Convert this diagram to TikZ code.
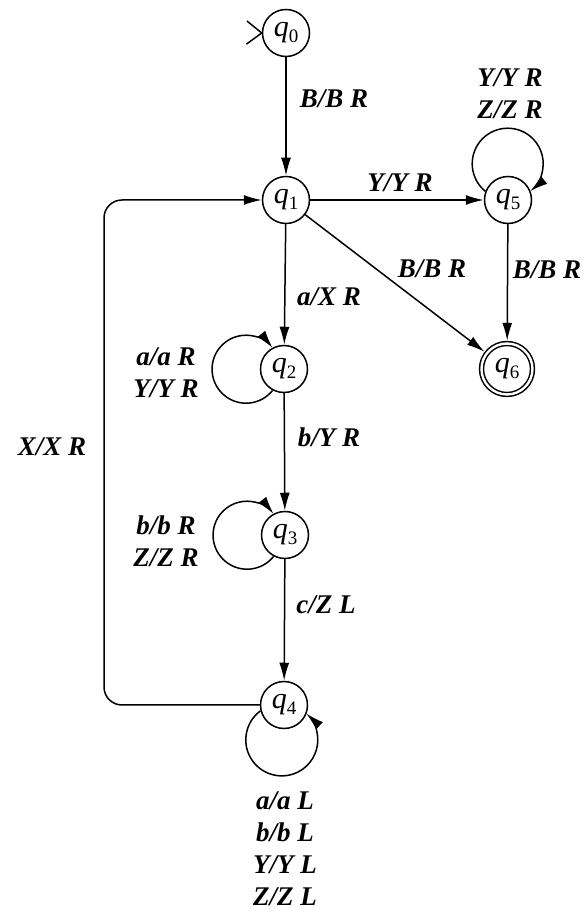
\documentclass[tikz,border=0pt]{standalone}
\usepackage{fontspec}
\setmainfont{Liberation Serif}
\usetikzlibrary{arrows.meta}
\newcommand{\qs}[1]{{\itshape q}\raisebox{-0.4ex}{\fontsize{19}{19}\selectfont #1}}
\begin{document}
\begin{tikzpicture}[x=1pt,y=1pt,
  state/.style={circle, draw, line width=1.5pt, minimum size=47pt, inner sep=0pt, font=\fontsize{30}{30}\selectfont},
  accept/.style={state, minimum size=51pt, double, double distance=2.4pt, outer sep=2.7pt},
  lbl/.style={font=\fontsize{27}{32}\selectfont\bfseries\itshape, inner sep=0pt, align=center},
  tr/.style={line width=1.5pt, -{Latex[length=18pt,width=10pt]}},
  plain/.style={line width=1.5pt}
]
\useasboundingbox (0,0) rectangle (582,911);
% states
\node[state] (q0) at (286,878) {\qs{0}};
\node[state] (q1) at (286,711) {\qs{1}};
\node[state] (q2) at (284,542) {\qs{2}};
\node[state] (q3) at (285,376) {\qs{3}};
\node[state] (q4) at (284,206) {\qs{4}};
\node[state] (q5) at (508,711) {\qs{5}};
\node[accept] (q6) at (507,542) {\qs{6}};
% initial marker
\draw[plain] (q0.west) -- ++(141:19);
\draw[plain] (q0.west) -- ++(216:19);
% transitions
\draw[tr] (q0) -- (q1);
\draw[tr] (q1) -- (q5);
\draw[tr] (q1) -- (q6);
\draw[tr] (q5) -- (q6);
\draw[tr] (q1) -- (q2);
\draw[tr] (q2) -- (q3);
\draw[tr] (q3) -- (q4);
\coordinate (corner) at (104,206);
\draw[tr, rounded corners=18pt] (q4.west) -- (corner) |- (q1.west);
% loops
\draw[tr] (q2.242) arc[start angle=-38.6, end angle=-321.4, radius=34];
\draw[tr] (q3.242) arc[start angle=-38.6, end angle=-321.4, radius=34];
\draw[tr] (q4.194) arc[start angle=126.3, end angle=407.1, radius=36];
\draw[tr] (q5.159) arc[start angle=231, end angle=-51, radius=35.5];
% labels
\node[lbl] (l01) at (334,812) {B/B R};
\node[lbl] (l15) at (400,728) {Y/Y R};
\node[lbl] (l16) at (432,642) {B/B R};
\node[lbl] (l56) at (547,641) {B/B R};
\node[lbl] (l12) at (329,614) {a/X R};
\node[lbl] (l23) at (329,474) {b/Y R};
\node[lbl] (l34) at (326,306) {c/Z L};
\node[lbl] (l41) at (52,464) {X/X R};
\node[lbl] (l22) at (166,538) {a/a R\\Y/Y R};
\node[lbl] (l33) at (166,370) {b/b R\\Z/Z R};
\node[lbl] (l55) at (510,817) {Y/Y R\\Z/Z R};
\node[lbl] (l44) at (285,62) {a/a L\\b/b L\\Y/Y L\\Z/Z L};
\end{tikzpicture}
\end{document}
